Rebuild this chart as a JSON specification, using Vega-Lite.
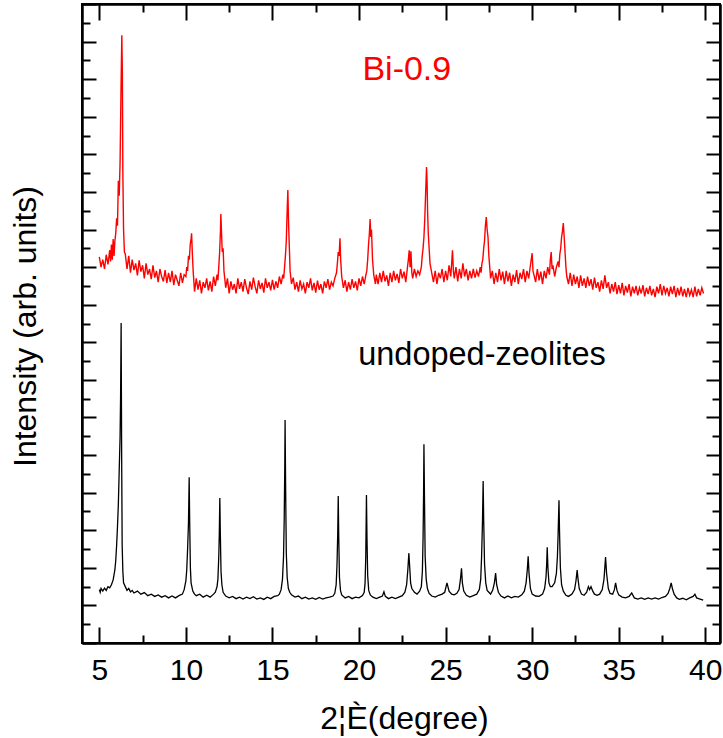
{
  "$schema": "https://vega.github.io/schema/vega-lite/v6.json",
  "width": 638,
  "height": 639,
  "autosize": {"type": "none"},
  "padding": {"left": 82, "top": 4, "right": 3, "bottom": 95},
  "background": "white",
  "config": {
    "view": {"stroke": "black", "strokeWidth": 2},
    "font": "Liberation Sans",
    "axis": {
      "grid": false,
      "domainColor": "black",
      "domainWidth": 2,
      "tickColor": "black",
      "tickWidth": 2,
      "labelColor": "black",
      "labelFont": "Liberation Sans",
      "titleFont": "Liberation Sans",
      "titleColor": "black",
      "titleFontWeight": "normal"
    }
  },
  "datasets": {
    "red": [
      {"angle":5.0,"intensity":10.27},{"angle":5.1,"intensity":10.0},{"angle":5.2,"intensity":10.2},{"angle":5.3,"intensity":9.95},{"angle":5.4,"intensity":10.33},{"angle":5.5,"intensity":10.07},{"angle":5.6,"intensity":10.45},{"angle":5.65,"intensity":10.15},{"angle":5.7,"intensity":10.6},{"angle":5.75,"intensity":10.2},{"angle":5.8,"intensity":10.75},{"angle":5.85,"intensity":10.3},{"angle":5.9,"intensity":10.7},{"angle":5.95,"intensity":10.9},{"angle":6.0,"intensity":11.3},{"angle":6.05,"intensity":11.1},{"angle":6.1,"intensity":12.3},{"angle":6.15,"intensity":11.9},{"angle":6.2,"intensity":12.8},{"angle":6.25,"intensity":14.6},{"angle":6.3,"intensity":16.17},{"angle":6.33,"intensity":15.2},{"angle":6.36,"intensity":12.5},{"angle":6.4,"intensity":11.0},{"angle":6.45,"intensity":10.4},{"angle":6.5,"intensity":10.35},{"angle":6.6,"intensity":9.95},{"angle":6.7,"intensity":10.3},{"angle":6.8,"intensity":9.85},{"angle":6.9,"intensity":10.2},{"angle":7.0,"intensity":9.92},{"angle":7.1,"intensity":10.1},{"angle":7.2,"intensity":9.78},{"angle":7.3,"intensity":10.18},{"angle":7.4,"intensity":9.88},{"angle":7.5,"intensity":10.05},{"angle":7.6,"intensity":9.7},{"angle":7.7,"intensity":10.1},{"angle":7.8,"intensity":9.8},{"angle":7.9,"intensity":9.95},{"angle":8.0,"intensity":9.68},{"angle":8.1,"intensity":10.05},{"angle":8.2,"intensity":9.72},{"angle":8.3,"intensity":9.9},{"angle":8.4,"intensity":9.6},{"angle":8.5,"intensity":9.95},{"angle":8.6,"intensity":9.75},{"angle":8.7,"intensity":9.62},{"angle":8.8,"intensity":9.92},{"angle":8.9,"intensity":9.58},{"angle":9.0,"intensity":9.85},{"angle":9.1,"intensity":9.6},{"angle":9.2,"intensity":9.9},{"angle":9.3,"intensity":9.52},{"angle":9.4,"intensity":9.8},{"angle":9.5,"intensity":9.65},{"angle":9.6,"intensity":9.5},{"angle":9.7,"intensity":9.85},{"angle":9.8,"intensity":9.58},{"angle":9.9,"intensity":9.8},{"angle":10.0,"intensity":9.75},{"angle":10.05,"intensity":10.0},{"angle":10.1,"intensity":9.9},{"angle":10.15,"intensity":10.3},{"angle":10.2,"intensity":10.2},{"angle":10.25,"intensity":10.6},{"angle":10.3,"intensity":10.75},{"angle":10.33,"intensity":10.9},{"angle":10.37,"intensity":10.4},{"angle":10.42,"intensity":9.9},{"angle":10.5,"intensity":9.35},{"angle":10.6,"intensity":9.7},{"angle":10.7,"intensity":9.4},{"angle":10.8,"intensity":9.65},{"angle":10.9,"intensity":9.3},{"angle":11.0,"intensity":9.6},{"angle":11.1,"intensity":9.45},{"angle":11.2,"intensity":9.7},{"angle":11.3,"intensity":9.38},{"angle":11.4,"intensity":9.62},{"angle":11.5,"intensity":9.35},{"angle":11.6,"intensity":9.75},{"angle":11.7,"intensity":9.5},{"angle":11.8,"intensity":9.8},{"angle":11.85,"intensity":9.65},{"angle":11.9,"intensity":10.0},{"angle":11.95,"intensity":10.4},{"angle":12.0,"intensity":11.0},{"angle":12.02,"intensity":11.41},{"angle":12.06,"intensity":10.9},{"angle":12.1,"intensity":10.4},{"angle":12.15,"intensity":10.5},{"angle":12.2,"intensity":9.9},{"angle":12.3,"intensity":9.45},{"angle":12.4,"intensity":9.7},{"angle":12.5,"intensity":9.3},{"angle":12.6,"intensity":9.62},{"angle":12.7,"intensity":9.4},{"angle":12.8,"intensity":9.55},{"angle":12.9,"intensity":9.3},{"angle":13.0,"intensity":9.7},{"angle":13.1,"intensity":9.42},{"angle":13.2,"intensity":9.6},{"angle":13.3,"intensity":9.35},{"angle":13.4,"intensity":9.68},{"angle":13.5,"intensity":9.45},{"angle":13.6,"intensity":9.28},{"angle":13.7,"intensity":9.62},{"angle":13.8,"intensity":9.4},{"angle":13.9,"intensity":9.72},{"angle":14.0,"intensity":9.48},{"angle":14.1,"intensity":9.3},{"angle":14.2,"intensity":9.65},{"angle":14.3,"intensity":9.42},{"angle":14.4,"intensity":9.58},{"angle":14.5,"intensity":9.32},{"angle":14.6,"intensity":9.7},{"angle":14.7,"intensity":9.45},{"angle":14.8,"intensity":9.6},{"angle":14.9,"intensity":9.38},{"angle":15.0,"intensity":9.66},{"angle":15.1,"intensity":9.4},{"angle":15.2,"intensity":9.62},{"angle":15.3,"intensity":9.45},{"angle":15.4,"intensity":9.75},{"angle":15.5,"intensity":9.55},{"angle":15.6,"intensity":9.8},{"angle":15.65,"intensity":9.7},{"angle":15.7,"intensity":10.0},{"angle":15.75,"intensity":10.3},{"angle":15.8,"intensity":10.7},{"angle":15.85,"intensity":11.5},{"angle":15.89,"intensity":12.05},{"angle":15.93,"intensity":11.2},{"angle":15.97,"intensity":10.6},{"angle":16.02,"intensity":9.9},{"angle":16.1,"intensity":9.55},{"angle":16.2,"intensity":9.72},{"angle":16.3,"intensity":9.4},{"angle":16.4,"intensity":9.6},{"angle":16.5,"intensity":9.35},{"angle":16.6,"intensity":9.65},{"angle":16.7,"intensity":9.42},{"angle":16.8,"intensity":9.55},{"angle":16.9,"intensity":9.3},{"angle":17.0,"intensity":9.6},{"angle":17.1,"intensity":9.45},{"angle":17.2,"intensity":9.7},{"angle":17.3,"intensity":9.38},{"angle":17.4,"intensity":9.58},{"angle":17.5,"intensity":9.32},{"angle":17.6,"intensity":9.64},{"angle":17.7,"intensity":9.4},{"angle":17.8,"intensity":9.55},{"angle":17.9,"intensity":9.3},{"angle":18.0,"intensity":9.62},{"angle":18.1,"intensity":9.45},{"angle":18.2,"intensity":9.68},{"angle":18.3,"intensity":9.4},{"angle":18.4,"intensity":9.6},{"angle":18.5,"intensity":9.5},{"angle":18.6,"intensity":9.7},{"angle":18.7,"intensity":9.85},{"angle":18.75,"intensity":10.1},{"angle":18.8,"intensity":10.4},{"angle":18.85,"intensity":10.3},{"angle":18.9,"intensity":10.77},{"angle":18.94,"intensity":10.2},{"angle":19.0,"intensity":9.75},{"angle":19.1,"intensity":9.45},{"angle":19.2,"intensity":9.65},{"angle":19.3,"intensity":9.35},{"angle":19.4,"intensity":9.6},{"angle":19.5,"intensity":9.4},{"angle":19.6,"intensity":9.68},{"angle":19.7,"intensity":9.45},{"angle":19.8,"intensity":9.62},{"angle":19.9,"intensity":9.38},{"angle":20.0,"intensity":9.7},{"angle":20.1,"intensity":9.5},{"angle":20.2,"intensity":9.75},{"angle":20.3,"intensity":9.55},{"angle":20.4,"intensity":9.8},{"angle":20.45,"intensity":9.9},{"angle":20.5,"intensity":10.2},{"angle":20.55,"intensity":10.6},{"angle":20.6,"intensity":10.9},{"angle":20.64,"intensity":11.28},{"angle":20.68,"intensity":10.8},{"angle":20.72,"intensity":11.0},{"angle":20.78,"intensity":10.2},{"angle":20.85,"intensity":9.8},{"angle":20.95,"intensity":9.55},{"angle":21.0,"intensity":9.8},{"angle":21.1,"intensity":9.55},{"angle":21.2,"intensity":9.85},{"angle":21.3,"intensity":9.6},{"angle":21.4,"intensity":9.9},{"angle":21.5,"intensity":9.62},{"angle":21.6,"intensity":9.78},{"angle":21.7,"intensity":9.5},{"angle":21.8,"intensity":9.85},{"angle":21.9,"intensity":9.6},{"angle":22.0,"intensity":9.9},{"angle":22.1,"intensity":9.65},{"angle":22.2,"intensity":9.82},{"angle":22.3,"intensity":9.58},{"angle":22.4,"intensity":9.95},{"angle":22.5,"intensity":9.7},{"angle":22.6,"intensity":9.88},{"angle":22.7,"intensity":9.6},{"angle":22.8,"intensity":10.0},{"angle":22.85,"intensity":10.2},{"angle":22.9,"intensity":10.45},{"angle":22.95,"intensity":10.0},{"angle":23.0,"intensity":10.42},{"angle":23.05,"intensity":9.85},{"angle":23.1,"intensity":9.7},{"angle":23.2,"intensity":9.95},{"angle":23.3,"intensity":9.75},{"angle":23.4,"intensity":9.9},{"angle":23.5,"intensity":9.8},{"angle":23.6,"intensity":10.0},{"angle":23.65,"intensity":10.3},{"angle":23.7,"intensity":10.5},{"angle":23.75,"intensity":10.8},{"angle":23.8,"intensity":11.3},{"angle":23.85,"intensity":12.0},{"angle":23.9,"intensity":12.66},{"angle":23.93,"intensity":12.3},{"angle":23.96,"intensity":11.5},{"angle":24.0,"intensity":10.9},{"angle":24.05,"intensity":10.5},{"angle":24.1,"intensity":10.1},{"angle":24.2,"intensity":9.85},{"angle":24.3,"intensity":9.6},{"angle":24.4,"intensity":9.9},{"angle":24.5,"intensity":9.55},{"angle":24.6,"intensity":9.85},{"angle":24.7,"intensity":9.7},{"angle":24.8,"intensity":9.95},{"angle":24.9,"intensity":9.6},{"angle":25.0,"intensity":9.9},{"angle":25.1,"intensity":9.65},{"angle":25.2,"intensity":10.05},{"angle":25.3,"intensity":9.75},{"angle":25.4,"intensity":10.45},{"angle":25.45,"intensity":9.9},{"angle":25.5,"intensity":9.7},{"angle":25.6,"intensity":10.0},{"angle":25.7,"intensity":9.62},{"angle":25.8,"intensity":9.95},{"angle":25.9,"intensity":9.7},{"angle":26.0,"intensity":10.1},{"angle":26.1,"intensity":9.75},{"angle":26.2,"intensity":9.95},{"angle":26.3,"intensity":9.65},{"angle":26.4,"intensity":9.9},{"angle":26.5,"intensity":9.7},{"angle":26.6,"intensity":9.95},{"angle":26.7,"intensity":9.72},{"angle":26.8,"intensity":9.9},{"angle":26.9,"intensity":9.75},{"angle":27.0,"intensity":10.0},{"angle":27.05,"intensity":9.85},{"angle":27.1,"intensity":10.1},{"angle":27.15,"intensity":10.2},{"angle":27.2,"intensity":10.5},{"angle":27.25,"intensity":10.7},{"angle":27.3,"intensity":11.1},{"angle":27.35,"intensity":11.33},{"angle":27.4,"intensity":11.0},{"angle":27.45,"intensity":10.8},{"angle":27.5,"intensity":10.3},{"angle":27.55,"intensity":10.0},{"angle":27.6,"intensity":9.7},{"angle":27.7,"intensity":9.9},{"angle":27.8,"intensity":9.55},{"angle":27.9,"intensity":9.85},{"angle":28.0,"intensity":9.6},{"angle":28.1,"intensity":9.95},{"angle":28.2,"intensity":9.65},{"angle":28.3,"intensity":9.88},{"angle":28.4,"intensity":9.55},{"angle":28.5,"intensity":9.9},{"angle":28.6,"intensity":9.62},{"angle":28.7,"intensity":9.85},{"angle":28.8,"intensity":9.5},{"angle":28.9,"intensity":9.8},{"angle":29.0,"intensity":9.6},{"angle":29.1,"intensity":9.92},{"angle":29.2,"intensity":9.55},{"angle":29.3,"intensity":9.85},{"angle":29.4,"intensity":9.68},{"angle":29.5,"intensity":9.95},{"angle":29.6,"intensity":9.6},{"angle":29.7,"intensity":9.9},{"angle":29.8,"intensity":9.7},{"angle":29.9,"intensity":10.05},{"angle":30.0,"intensity":10.37},{"angle":30.05,"intensity":9.9},{"angle":30.1,"intensity":9.8},{"angle":30.2,"intensity":9.6},{"angle":30.3,"intensity":9.95},{"angle":30.4,"intensity":9.65},{"angle":30.5,"intensity":9.88},{"angle":30.6,"intensity":9.55},{"angle":30.7,"intensity":9.9},{"angle":30.8,"intensity":9.7},{"angle":30.9,"intensity":10.0},{"angle":31.0,"intensity":9.8},{"angle":31.05,"intensity":10.2},{"angle":31.1,"intensity":10.4},{"angle":31.15,"intensity":9.95},{"angle":31.2,"intensity":10.05},{"angle":31.3,"intensity":9.75},{"angle":31.4,"intensity":10.0},{"angle":31.5,"intensity":10.15},{"angle":31.55,"intensity":10.0},{"angle":31.6,"intensity":10.35},{"angle":31.65,"intensity":10.5},{"angle":31.7,"intensity":10.8},{"angle":31.75,"intensity":10.95},{"angle":31.8,"intensity":11.17},{"angle":31.85,"intensity":10.8},{"angle":31.9,"intensity":10.4},{"angle":31.95,"intensity":10.0},{"angle":32.0,"intensity":9.75},{"angle":32.1,"intensity":9.55},{"angle":32.2,"intensity":9.85},{"angle":32.3,"intensity":9.5},{"angle":32.4,"intensity":9.8},{"angle":32.5,"intensity":9.55},{"angle":32.6,"intensity":9.75},{"angle":32.7,"intensity":9.45},{"angle":32.8,"intensity":9.78},{"angle":32.9,"intensity":9.5},{"angle":33.0,"intensity":9.7},{"angle":33.1,"intensity":9.45},{"angle":33.2,"intensity":9.75},{"angle":33.3,"intensity":9.5},{"angle":33.4,"intensity":9.68},{"angle":33.5,"intensity":9.4},{"angle":33.6,"intensity":9.72},{"angle":33.7,"intensity":9.45},{"angle":33.8,"intensity":9.6},{"angle":33.9,"intensity":9.35},{"angle":34.0,"intensity":9.65},{"angle":34.1,"intensity":9.42},{"angle":34.2,"intensity":9.78},{"angle":34.3,"intensity":9.45},{"angle":34.4,"intensity":9.6},{"angle":34.5,"intensity":9.3},{"angle":34.6,"intensity":9.55},{"angle":34.7,"intensity":9.35},{"angle":34.8,"intensity":9.6},{"angle":34.9,"intensity":9.28},{"angle":35.0,"intensity":9.52},{"angle":35.1,"intensity":9.3},{"angle":35.2,"intensity":9.58},{"angle":35.3,"intensity":9.25},{"angle":35.4,"intensity":9.5},{"angle":35.5,"intensity":9.32},{"angle":35.6,"intensity":9.55},{"angle":35.7,"intensity":9.22},{"angle":35.8,"intensity":9.48},{"angle":35.9,"intensity":9.3},{"angle":36.0,"intensity":9.5},{"angle":36.1,"intensity":9.25},{"angle":36.2,"intensity":9.45},{"angle":36.3,"intensity":9.3},{"angle":36.4,"intensity":9.52},{"angle":36.5,"intensity":9.22},{"angle":36.6,"intensity":9.45},{"angle":36.7,"intensity":9.28},{"angle":36.8,"intensity":9.5},{"angle":36.9,"intensity":9.25},{"angle":37.0,"intensity":9.42},{"angle":37.1,"intensity":9.2},{"angle":37.2,"intensity":9.48},{"angle":37.3,"intensity":9.3},{"angle":37.4,"intensity":9.55},{"angle":37.5,"intensity":9.25},{"angle":37.6,"intensity":9.5},{"angle":37.7,"intensity":9.3},{"angle":37.8,"intensity":9.45},{"angle":37.9,"intensity":9.22},{"angle":38.0,"intensity":9.48},{"angle":38.1,"intensity":9.28},{"angle":38.2,"intensity":9.5},{"angle":38.3,"intensity":9.2},{"angle":38.4,"intensity":9.45},{"angle":38.5,"intensity":9.25},{"angle":38.6,"intensity":9.48},{"angle":38.7,"intensity":9.22},{"angle":38.8,"intensity":9.42},{"angle":38.9,"intensity":9.2},{"angle":39.0,"intensity":9.45},{"angle":39.1,"intensity":9.25},{"angle":39.2,"intensity":9.4},{"angle":39.3,"intensity":9.2},{"angle":39.4,"intensity":9.48},{"angle":39.5,"intensity":9.22},{"angle":39.6,"intensity":9.42},{"angle":39.7,"intensity":9.25},{"angle":39.8,"intensity":9.45},{"angle":39.9,"intensity":9.3}
    ],
    "black": [
      {"angle":5.0,"intensity":1.42},{"angle":5.05,"intensity":1.35},{"angle":5.1,"intensity":1.45},{"angle":5.2,"intensity":1.38},{"angle":5.3,"intensity":1.46},{"angle":5.4,"intensity":1.4},{"angle":5.5,"intensity":1.5},{"angle":5.6,"intensity":1.47},{"angle":5.7,"intensity":1.55},{"angle":5.8,"intensity":1.68},{"angle":5.9,"intensity":1.95},{"angle":5.95,"intensity":2.2},{"angle":6.0,"intensity":2.6},{"angle":6.05,"intensity":3.1},{"angle":6.1,"intensity":3.7},{"angle":6.15,"intensity":4.6},{"angle":6.2,"intensity":5.5},{"angle":6.23,"intensity":6.6},{"angle":6.26,"intensity":8.51},{"angle":6.29,"intensity":5.0},{"angle":6.32,"intensity":2.6},{"angle":6.36,"intensity":1.9},{"angle":6.4,"intensity":1.6},{"angle":6.5,"intensity":1.5},{"angle":6.6,"intensity":1.4},{"angle":6.7,"intensity":1.45},{"angle":6.8,"intensity":1.36},{"angle":6.9,"intensity":1.4},{"angle":7.0,"intensity":1.33},{"angle":7.2,"intensity":1.38},{"angle":7.4,"intensity":1.3},{"angle":7.6,"intensity":1.34},{"angle":7.8,"intensity":1.26},{"angle":8.0,"intensity":1.3},{"angle":8.2,"intensity":1.24},{"angle":8.4,"intensity":1.28},{"angle":8.6,"intensity":1.22},{"angle":8.8,"intensity":1.26},{"angle":9.0,"intensity":1.2},{"angle":9.2,"intensity":1.25},{"angle":9.4,"intensity":1.2},{"angle":9.6,"intensity":1.26},{"angle":9.8,"intensity":1.3},{"angle":9.9,"intensity":1.42},{"angle":10.0,"intensity":1.65},{"angle":10.05,"intensity":1.95},{"angle":10.1,"intensity":2.5},{"angle":10.15,"intensity":3.2},{"angle":10.19,"intensity":4.41},{"angle":10.22,"intensity":3.2},{"angle":10.26,"intensity":2.0},{"angle":10.3,"intensity":1.6},{"angle":10.4,"intensity":1.38},{"angle":10.5,"intensity":1.3},{"angle":10.6,"intensity":1.26},{"angle":10.8,"intensity":1.3},{"angle":11.0,"intensity":1.22},{"angle":11.2,"intensity":1.27},{"angle":11.4,"intensity":1.22},{"angle":11.6,"intensity":1.3},{"angle":11.7,"intensity":1.35},{"angle":11.8,"intensity":1.5},{"angle":11.85,"intensity":1.7},{"angle":11.9,"intensity":2.3},{"angle":11.93,"intensity":2.9},{"angle":11.96,"intensity":3.86},{"angle":11.99,"intensity":2.9},{"angle":12.03,"intensity":1.9},{"angle":12.08,"intensity":1.55},{"angle":12.15,"intensity":1.35},{"angle":12.3,"intensity":1.25},{"angle":12.5,"intensity":1.2},{"angle":12.7,"intensity":1.24},{"angle":12.9,"intensity":1.18},{"angle":13.1,"intensity":1.22},{"angle":13.3,"intensity":1.17},{"angle":13.5,"intensity":1.22},{"angle":13.7,"intensity":1.18},{"angle":13.9,"intensity":1.23},{"angle":14.1,"intensity":1.17},{"angle":14.3,"intensity":1.2},{"angle":14.5,"intensity":1.16},{"angle":14.7,"intensity":1.22},{"angle":14.9,"intensity":1.18},{"angle":15.1,"intensity":1.24},{"angle":15.3,"intensity":1.26},{"angle":15.4,"intensity":1.3},{"angle":15.5,"intensity":1.42},{"angle":15.58,"intensity":1.7},{"angle":15.64,"intensity":2.3},{"angle":15.68,"intensity":3.3},{"angle":15.71,"intensity":4.6},{"angle":15.73,"intensity":5.93},{"angle":15.76,"intensity":4.2},{"angle":15.8,"intensity":2.4},{"angle":15.85,"intensity":1.75},{"angle":15.92,"intensity":1.45},{"angle":16.0,"intensity":1.35},{"angle":16.1,"intensity":1.28},{"angle":16.3,"intensity":1.22},{"angle":16.5,"intensity":1.25},{"angle":16.7,"intensity":1.18},{"angle":16.9,"intensity":1.22},{"angle":17.1,"intensity":1.17},{"angle":17.3,"intensity":1.2},{"angle":17.5,"intensity":1.16},{"angle":17.7,"intensity":1.21},{"angle":17.9,"intensity":1.17},{"angle":18.1,"intensity":1.2},{"angle":18.3,"intensity":1.22},{"angle":18.5,"intensity":1.25},{"angle":18.6,"intensity":1.32},{"angle":18.68,"intensity":1.55},{"angle":18.73,"intensity":2.1},{"angle":18.77,"intensity":2.9},{"angle":18.8,"intensity":3.91},{"angle":18.83,"intensity":2.8},{"angle":18.87,"intensity":1.75},{"angle":18.93,"intensity":1.4},{"angle":19.0,"intensity":1.28},{"angle":19.2,"intensity":1.2},{"angle":19.4,"intensity":1.24},{"angle":19.6,"intensity":1.18},{"angle":19.8,"intensity":1.22},{"angle":20.0,"intensity":1.2},{"angle":20.2,"intensity":1.26},{"angle":20.3,"intensity":1.35},{"angle":20.35,"intensity":1.6},{"angle":20.39,"intensity":2.3},{"angle":20.43,"intensity":3.94},{"angle":20.46,"intensity":2.8},{"angle":20.5,"intensity":1.8},{"angle":20.56,"intensity":1.4},{"angle":20.65,"intensity":1.28},{"angle":20.8,"intensity":1.22},{"angle":21.0,"intensity":1.18},{"angle":21.2,"intensity":1.22},{"angle":21.35,"intensity":1.25},{"angle":21.44,"intensity":1.36},{"angle":21.52,"intensity":1.24},{"angle":21.7,"intensity":1.18},{"angle":21.9,"intensity":1.22},{"angle":22.1,"intensity":1.18},{"angle":22.3,"intensity":1.22},{"angle":22.5,"intensity":1.26},{"angle":22.65,"intensity":1.35},{"angle":22.75,"intensity":1.55},{"angle":22.82,"intensity":1.95},{"angle":22.88,"intensity":2.39},{"angle":22.93,"intensity":2.0},{"angle":22.98,"intensity":1.6},{"angle":23.05,"intensity":1.45},{"angle":23.2,"intensity":1.35},{"angle":23.35,"intensity":1.3},{"angle":23.5,"intensity":1.38},{"angle":23.6,"intensity":1.5},{"angle":23.66,"intensity":1.9},{"angle":23.7,"intensity":2.8},{"angle":23.73,"intensity":4.0},{"angle":23.75,"intensity":5.29},{"angle":23.78,"intensity":3.9},{"angle":23.82,"intensity":2.3},{"angle":23.88,"intensity":1.7},{"angle":23.95,"intensity":1.45},{"angle":24.05,"intensity":1.32},{"angle":24.2,"intensity":1.25},{"angle":24.4,"intensity":1.22},{"angle":24.6,"intensity":1.27},{"angle":24.8,"intensity":1.3},{"angle":24.95,"intensity":1.35},{"angle":25.08,"intensity":1.6},{"angle":25.2,"intensity":1.38},{"angle":25.35,"intensity":1.3},{"angle":25.5,"intensity":1.28},{"angle":25.65,"intensity":1.32},{"angle":25.78,"intensity":1.42},{"angle":25.86,"intensity":1.7},{"angle":25.92,"intensity":1.99},{"angle":25.97,"intensity":1.6},{"angle":26.05,"intensity":1.38},{"angle":26.2,"intensity":1.27},{"angle":26.4,"intensity":1.22},{"angle":26.6,"intensity":1.26},{"angle":26.8,"intensity":1.3},{"angle":26.95,"intensity":1.42},{"angle":27.03,"intensity":1.7},{"angle":27.08,"intensity":2.3},{"angle":27.13,"intensity":3.2},{"angle":27.17,"intensity":4.31},{"angle":27.2,"intensity":3.3},{"angle":27.25,"intensity":2.1},{"angle":27.32,"intensity":1.6},{"angle":27.4,"intensity":1.4},{"angle":27.5,"intensity":1.35},{"angle":27.6,"intensity":1.3},{"angle":27.72,"intensity":1.4},{"angle":27.82,"intensity":1.6},{"angle":27.89,"intensity":1.86},{"angle":27.95,"intensity":1.55},{"angle":28.05,"intensity":1.35},{"angle":28.2,"intensity":1.25},{"angle":28.4,"intensity":1.2},{"angle":28.6,"intensity":1.25},{"angle":28.8,"intensity":1.2},{"angle":29.0,"intensity":1.24},{"angle":29.2,"intensity":1.22},{"angle":29.4,"intensity":1.28},{"angle":29.55,"intensity":1.38},{"angle":29.65,"intensity":1.6},{"angle":29.72,"intensity":1.95},{"angle":29.77,"intensity":2.31},{"angle":29.82,"intensity":1.85},{"angle":29.9,"intensity":1.45},{"angle":30.0,"intensity":1.3},{"angle":30.2,"intensity":1.25},{"angle":30.4,"intensity":1.24},{"angle":30.6,"intensity":1.3},{"angle":30.72,"intensity":1.45},{"angle":30.8,"intensity":1.75},{"angle":30.84,"intensity":2.1},{"angle":30.87,"intensity":2.55},{"angle":30.91,"intensity":2.0},{"angle":30.97,"intensity":1.6},{"angle":31.05,"intensity":1.5},{"angle":31.15,"intensity":1.5},{"angle":31.3,"intensity":1.6},{"angle":31.4,"intensity":1.85},{"angle":31.46,"intensity":2.3},{"angle":31.5,"intensity":2.9},{"angle":31.55,"intensity":3.8},{"angle":31.58,"intensity":3.0},{"angle":31.63,"intensity":2.0},{"angle":31.7,"intensity":1.55},{"angle":31.8,"intensity":1.38},{"angle":31.95,"intensity":1.27},{"angle":32.1,"intensity":1.24},{"angle":32.3,"intensity":1.3},{"angle":32.45,"intensity":1.42},{"angle":32.53,"intensity":1.65},{"angle":32.6,"intensity":1.94},{"angle":32.65,"intensity":1.7},{"angle":32.72,"intensity":1.45},{"angle":32.85,"intensity":1.3},{"angle":33.0,"intensity":1.27},{"angle":33.15,"intensity":1.35},{"angle":33.25,"intensity":1.5},{"angle":33.32,"intensity":1.42},{"angle":33.4,"intensity":1.5},{"angle":33.5,"intensity":1.38},{"angle":33.6,"intensity":1.3},{"angle":33.75,"intensity":1.27},{"angle":33.9,"intensity":1.3},{"angle":34.05,"intensity":1.42},{"angle":34.15,"intensity":1.7},{"angle":34.24,"intensity":2.29},{"angle":34.3,"intensity":1.85},{"angle":34.4,"intensity":1.45},{"angle":34.5,"intensity":1.32},{"angle":34.65,"intensity":1.3},{"angle":34.75,"intensity":1.42},{"angle":34.82,"intensity":1.6},{"angle":34.9,"intensity":1.4},{"angle":35.0,"intensity":1.28},{"angle":35.2,"intensity":1.22},{"angle":35.4,"intensity":1.2},{"angle":35.6,"intensity":1.24},{"angle":35.75,"intensity":1.33},{"angle":35.9,"intensity":1.2},{"angle":36.1,"intensity":1.17},{"angle":36.3,"intensity":1.2},{"angle":36.5,"intensity":1.16},{"angle":36.7,"intensity":1.2},{"angle":36.9,"intensity":1.17},{"angle":37.1,"intensity":1.2},{"angle":37.3,"intensity":1.17},{"angle":37.5,"intensity":1.21},{"angle":37.7,"intensity":1.24},{"angle":37.85,"intensity":1.32},{"angle":37.95,"intensity":1.45},{"angle":38.03,"intensity":1.6},{"angle":38.1,"intensity":1.45},{"angle":38.2,"intensity":1.3},{"angle":38.35,"intensity":1.2},{"angle":38.5,"intensity":1.16},{"angle":38.7,"intensity":1.19},{"angle":38.9,"intensity":1.15},{"angle":39.1,"intensity":1.2},{"angle":39.3,"intensity":1.24},{"angle":39.4,"intensity":1.3},{"angle":39.5,"intensity":1.2},{"angle":39.7,"intensity":1.17},{"angle":39.88,"intensity":1.14}
    ]
  },
  "resolve": {"axis": {"x": "independent", "y": "independent"}},
  "layer": [
    {
      "data": {"name": "red"},
      "mark": {"type": "line", "color": "#ff0000", "strokeWidth": 1.4},
      "encoding": {
        "x": {"field": "angle", "type": "quantitative", "scale": {"domain": [4, 40.85], "nice": false, "zero": false},
          "axis": {"orient": "bottom", "values": [5,10,15,20,25,30,35,40], "tickSize": -16, "labelFontSize": 30, "labelPadding": 52, "labelBaseline": "alphabetic", "labelFlush": false, "title": "2¦È(degree)", "titleFontSize": 32, "titleX": 322, "titleY": 85, "titleBaseline": "alphabetic", "titleAlign": "center"}},
        "y": {"field": "intensity", "type": "quantitative", "scale": {"domain": [0, 17], "nice": false, "zero": false},
          "axis": {"orient": "left", "values": [0,1,2,3,4,5,6,7,8,9,10,11,12,13,14,15,16,17], "tickSize": -14, "labels": false, "title": "Intensity (arb. units)", "titleFontSize": 32, "titleAngle": -90, "titleX": -47, "titleY": 322, "titleBaseline": "alphabetic", "titleAlign": "center"}}
      }
    },
    {
      "data": {"name": "black"},
      "mark": {"type": "line", "color": "#000000", "strokeWidth": 1.3},
      "encoding": {
        "x": {"field": "angle", "type": "quantitative", "scale": {"domain": [4, 40.85], "nice": false, "zero": false},
          "axis": {"orient": "top", "values": [5,10,15,20,25,30,35,40], "tickSize": -16, "labels": false, "title": null}},
        "y": {"field": "intensity", "type": "quantitative", "scale": {"domain": [0, 17], "nice": false, "zero": false},
          "axis": {"orient": "right", "values": [0,1,2,3,4,5,6,7,8,9,10,11,12,13,14,15,16,17], "tickSize": -14, "labels": false, "title": null}}
      }
    },
    {
      "data": {"values": [{"angle": 22.76, "intensity": 14.97, "label": "Bi-0.9"}]},
      "mark": {"type": "text", "color": "#ff0000", "fontSize": 34, "align": "center", "baseline": "alphabetic", "font": "Liberation Sans"},
      "encoding": {
        "x": {"field": "angle", "type": "quantitative", "scale": {"domain": [4, 40.85], "nice": false, "zero": false},
          "axis": {"orient": "bottom", "values": [7.5,12.5,17.5,22.5,27.5,32.5,37.5], "tickSize": -8, "labels": false, "title": null}},
        "y": {"field": "intensity", "type": "quantitative", "scale": {"domain": [0, 17], "nice": false, "zero": false},
          "axis": {"orient": "left", "values": [0.5,1.5,2.5,3.5,4.5,5.5,6.5,7.5,8.5,9.5,10.5,11.5,12.5,13.5,14.5,15.5,16.5], "tickSize": -8, "labels": false, "title": null}},
        "text": {"field": "label"}
      }
    },
    {
      "data": {"values": [{"angle": 27.1, "intensity": 7.39, "label": "undoped-zeolites"}]},
      "mark": {"type": "text", "color": "#000000", "fontSize": 32.5, "align": "center", "baseline": "alphabetic", "font": "Liberation Sans"},
      "encoding": {
        "x": {"field": "angle", "type": "quantitative", "scale": {"domain": [4, 40.85], "nice": false, "zero": false},
          "axis": {"orient": "top", "values": [7.5,12.5,17.5,22.5,27.5,32.5,37.5], "tickSize": -8, "labels": false, "title": null}},
        "y": {"field": "intensity", "type": "quantitative", "scale": {"domain": [0, 17], "nice": false, "zero": false},
          "axis": {"orient": "right", "values": [0.5,1.5,2.5,3.5,4.5,5.5,6.5,7.5,8.5,9.5,10.5,11.5,12.5,13.5,14.5,15.5,16.5], "tickSize": -8, "labels": false, "title": null}},
        "text": {"field": "label"}
      }
    }
  ]
}
